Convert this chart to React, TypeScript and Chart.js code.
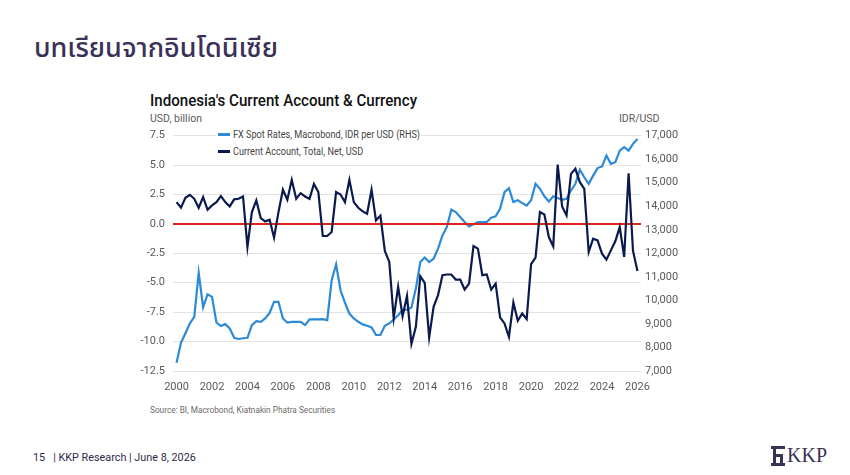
import React, { useEffect, useRef } from "react";
import { Chart, registerables } from "chart.js";

Chart.register(...registerables);

const START_YEAR = 2000;
const YEAR_TICKS = [2000, 2002, 2004, 2006, 2008, 2010, 2012, 2014, 2016, 2018, 2020, 2022, 2024, 2026];

// Current account, USD billion, quarterly from 2000Q1
const CURRENT_ACCOUNT = [
  1.85, 1.37, 2.22, 2.47, 2.13, 1.37, 2.27, 1.2, 1.57, 1.85,
  2.36, 1.85, 1.48, 2.08, 2.13, 2.33, -1.96, 1.0, 1.99, 0.49,
  0.21, 0.35, -1.17, 1.0, 2.9, 2.05, 3.74, 2.13, 2.61, 2.33,
  2.13, 3.4, 2.7, -1.03, -1.03, -0.69, 2.7, 2.5, 1.85, 3.74,
  1.85, 1.37, 1.06, 0.86, 2.9, 0.3, 0.7, -2.3, -3.23, -8.0,
  -5.35, -7.85, -6.12, -10.2, -8.74, -4.45, -5.01, -9.65, -7.05, -6.06,
  -4.36, -4.3, -4.3, -4.73, -4.73, -5.58, -5.07, -1.88, -2.1, -4.36,
  -4.3, -5.58, -5.07, -7.95, -8.46, -9.59, -6.68, -8.23, -7.61, -8.09,
  -3.43, -2.87, 1.0, 0.8, -1.12, -1.91, 5.04, 1.48, 0.72, 4.25,
  4.68, 3.54, 2.98, -2.39, -1.26, -1.4, -2.53, -3.04, -2.25, -1.48,
  -0.27, -2.81, 4.3, -2.3, -4.0,
];

// IDR per USD, quarterly from 2000Q1
const FX_RATE = [
  7350, 8200, 8600, 9020, 9300, 11170, 9700, 10260, 10150, 9060,
  8910, 8990, 8810, 8410, 8360, 8390, 8410, 8950, 9120, 9090,
  9230, 9470, 9940, 9940, 9230, 9060, 9090, 9090, 9090, 8950,
  9190, 9190, 9190, 9200, 9160, 10860, 11530, 10430, 9900, 9440,
  9230, 9090, 8980, 8920, 8850, 8530, 8530, 8920, 9020, 9190,
  9370, 9590, 9610, 9700, 10500, 11630, 11820, 11630, 11770, 12200,
  12760, 13120, 13850, 13750, 13540, 13330, 13140, 13230, 13330, 13330,
  13330, 13510, 13570, 13890, 14600, 14770, 14180, 14250, 14130, 14030,
  14250, 14950, 14740, 14420, 14200, 14420, 14350, 14270, 14320, 14670,
  14950, 15550, 15230, 14950, 15300, 15620, 15690, 16150, 15800, 15870,
  16360, 16510, 16360, 16650, 16860,
];

const LEFT_TICKS = [7.5, 5.0, 2.5, 0.0, -2.5, -5.0, -7.5, -10.0, -12.5];
const RIGHT_TICKS = [17000, 16000, 15000, 14000, 13000, 12000, 11000, 10000, 9000, 8000, 7000];

const FX_LABEL = "FX Spot Rates, Macrobond, IDR per USD (RHS)";
const CA_LABEL = "Current Account, Total, Net, USD";

const FX_COLOR = "#2c8ad6";
const CA_COLOR = "#0b1a4e";
const ZERO_COLOR = "#e2231a";
const TEXT_GRAY = "#5a5a5a";
const FONT = 'Roboto, "Open Sans", sans-serif';

const X_MIN = 1999.8;
const X_MAX = 2026.2;

function ChartCanvas() {
  const ref = useRef<HTMLCanvasElement | null>(null);
  useEffect(() => {
    if (!ref.current) return;
    const toXY = (arr: number[]) => arr.map((v, i) => ({ x: START_YEAR + i * 0.25, y: v }));
    const chart = new Chart(ref.current, {
      type: "line",
      data: {
        datasets: [
          {
            label: CA_LABEL,
            data: toXY(CURRENT_ACCOUNT),
            yAxisID: "y",
            borderColor: CA_COLOR,
            borderWidth: 2.2,
            pointRadius: 0,
            tension: 0,
            order: 1,
          },
          {
            label: "zero",
            data: [
              { x: X_MIN, y: 0 },
              { x: X_MAX, y: 0 },
            ],
            yAxisID: "y",
            borderColor: ZERO_COLOR,
            borderWidth: 2,
            pointRadius: 0,
            order: 2,
          },
          {
            label: FX_LABEL,
            data: toXY(FX_RATE),
            yAxisID: "y1",
            borderColor: FX_COLOR,
            borderWidth: 2.2,
            pointRadius: 0,
            tension: 0,
            order: 3,
          },
        ],
      },
      options: {
        animation: false,
        responsive: true,
        maintainAspectRatio: false,
        layout: { padding: { top: 10, left: 0, right: 0, bottom: 0 } },
        plugins: { legend: { display: false }, tooltip: { enabled: false } },
        scales: {
          x: {
            type: "linear",
            min: X_MIN,
            max: X_MAX,
            grid: { display: false, drawTicks: false },
            border: { display: false },
            afterBuildTicks: (s: any) => {
              s.ticks = YEAR_TICKS.map((v) => ({ value: v }));
            },
            afterFit: (s: any) => {
              s.height = 29;
            },
            ticks: {
              padding: 10,
              color: TEXT_GRAY,
              font: { family: FONT, size: 11 },
              maxRotation: 0,
              autoSkip: false,
              callback: (v: any) => String(v),
            },
          },
          y: {
            type: "linear",
            position: "left",
            min: -12.5,
            max: 7.5,
            afterBuildTicks: (s: any) => {
              s.ticks = LEFT_TICKS.slice().reverse().map((v) => ({ value: v }));
            },
            afterFit: (s: any) => {
              s.width = 43;
            },
            grid: { color: "#e3e3e3", lineWidth: 1, drawTicks: false },
            border: { display: false },
            ticks: {
              padding: 8,
              color: TEXT_GRAY,
              font: { family: FONT, size: 11 },
              callback: (v: any) => Number(v).toFixed(1),
            },
          },
          y1: {
            type: "linear",
            position: "right",
            min: 7000,
            max: 17000,
            afterBuildTicks: (s: any) => {
              s.ticks = RIGHT_TICKS.slice().reverse().map((v) => ({ value: v }));
            },
            afterFit: (s: any) => {
              s.width = 49;
            },
            grid: { display: false, drawTicks: false },
            border: { display: false },
            ticks: {
              padding: 4,
              color: TEXT_GRAY,
              font: { family: FONT, size: 11 },
              callback: (v: any) => Number(v).toLocaleString("en-US"),
            },
          },
        },
      },
    });
    return () => chart.destroy();
  }, []);
  return <canvas ref={ref} />;
}

const narrow = (s: number): React.CSSProperties => ({
  transform: `scaleX(${s})`,
  transformOrigin: "left center",
  display: "inline-block",
  whiteSpace: "nowrap",
});

const marker = (color: string): React.CSSProperties => ({
  display: "inline-block",
  flexShrink: 0,
  width: 12,
  height: 3,
  background: color,
  marginLeft: 2,
  marginRight: 3,
});

export default function App() {
  return (
    <div
      style={{
        position: "fixed",
        left: 0,
        top: 0,
        width: 850,
        height: 475,
        background: "#ffffff",
        overflow: "hidden",
        fontFamily: FONT,
      }}
    >
      <div
        style={{
          position: "absolute",
          left: 34,
          top: 28,
          fontFamily: '"Noto Sans Thai", "Noto Sans", "Loma", sans-serif',
          fontSize: 27,
          fontWeight: 500,
          color: "#3b3156",
          whiteSpace: "nowrap",
        }}
      >
        บทเรียนจากอินโดนิเซีย
      </div>

      <div
        style={{
          position: "absolute",
          left: 150,
          top: 91,
          fontSize: 16.5,
          fontWeight: 500,
          color: "#111111",
          ...narrow(0.915),
        }}
      >
        Indonesia's Current Account &amp; Currency
      </div>
      <div style={{ position: "absolute", left: 150, top: 112, fontSize: 10.5, color: TEXT_GRAY, ...narrow(1) }}>
        USD, billion
      </div>
      <div style={{ position: "absolute", left: 619, top: 112, fontSize: 10.5, color: TEXT_GRAY, ...narrow(1) }}>
        IDR/USD
      </div>

      <div style={{ position: "absolute", left: 130, top: 121, width: 560, height: 279 }}>
        <ChartCanvas />
      </div>

      <div
        style={{
          position: "absolute",
          left: 216,
          top: 126,
          width: 205,
          background: "#ffffff",
          fontSize: 10.5,
          color: "#444444",
          lineHeight: "17px",
          whiteSpace: "nowrap",
        }}
      >
        <div style={{ display: "flex", alignItems: "center", height: 17 }}>
          <span style={marker(FX_COLOR)} />
          <span style={narrow(0.87)}>{FX_LABEL}</span>
        </div>
      </div>
      <div
        style={{
          position: "absolute",
          left: 216,
          top: 143,
          width: 154,
          background: "#ffffff",
          fontSize: 10.5,
          color: "#444444",
          lineHeight: "17px",
          whiteSpace: "nowrap",
        }}
      >
        <div style={{ display: "flex", alignItems: "center", height: 17 }}>
          <span style={marker(CA_COLOR)} />
          <span style={narrow(0.87)}>{CA_LABEL}</span>
        </div>
      </div>

      <div style={{ position: "absolute", left: 150, top: 404, fontSize: 9.5, color: "#6a6a6a", ...narrow(0.87) }}>
        Source: BI, Macrobond, Kiatnakin Phatra Securities
      </div>

      <div
        style={{
          position: "absolute",
          left: 33,
          top: 450,
          fontSize: 11.5,
          color: "#2c2a4a",
          ...narrow(0.94),
        }}
      >
        15&nbsp;&nbsp;&nbsp;| KKP Research | June 8, 2026
      </div>

      <div style={{ position: "absolute", left: 771, top: 446, width: 14, height: 20 }}>
        <div style={{ position: "absolute", left: 0, top: 0, width: 14, height: 3, background: "#3b3156" }} />
        <div style={{ position: "absolute", left: 2, top: 3, width: 3, height: 15, background: "#3b3156" }} />
        <div style={{ position: "absolute", left: 5, top: 8, width: 7, height: 3, background: "#3b3156" }} />
        <div style={{ position: "absolute", left: 9, top: 8, width: 3, height: 10, background: "#3b3156" }} />
        <div style={{ position: "absolute", left: 0, top: 17, width: 14, height: 3, background: "#3b3156" }} />
      </div>
      <div
        style={{
          position: "absolute",
          left: 787,
          top: 444,
          fontFamily: '"Liberation Serif", serif',
          fontSize: 20,
          color: "#3b3156",
          whiteSpace: "nowrap",
        }}
      >
        KKP
      </div>
    </div>
  );
}
